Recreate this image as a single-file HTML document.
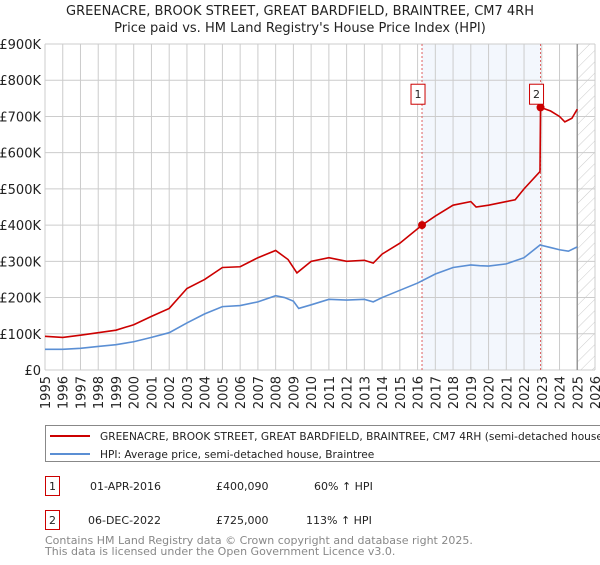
<!DOCTYPE html>
<html><head><meta charset="utf-8"><style>
body{margin:0;background:#fff;font-family:"Liberation Sans","DejaVu Sans",sans-serif;}
svg text{font-family:"DejaVu Sans","Liberation Sans",sans-serif;}
</style></head><body>
<svg id="chart" width="600" height="560" xmlns="http://www.w3.org/2000/svg">
<defs><pattern id="hatch" width="8" height="8" patternUnits="userSpaceOnUse" patternTransform="rotate(45)"><line x1="0" y1="0" x2="0" y2="8" stroke="#ccc" stroke-width="1"/></pattern></defs>
<text x="300" y="15" text-anchor="middle" font-size="13" fill="#222">GREENACRE, BROOK STREET, GREAT BARDFIELD, BRAINTREE, CM7 4RH</text>
<text x="300" y="32" text-anchor="middle" font-size="13" fill="#222">Price paid vs. HM Land Registry's House Price Index (HPI)</text>
<g id="plot"></g>
<rect x="45.5" y="425.5" width="560" height="36" fill="#fff" stroke="#888"/>
<line x1="50" y1="436" x2="90" y2="436" stroke="#cc0000" stroke-width="2"/>
<text x="100" y="440" font-size="10.6" fill="#222">GREENACRE, BROOK STREET, GREAT BARDFIELD, BRAINTREE, CM7 4RH (semi-detached house)</text>
<line x1="50" y1="454" x2="90" y2="454" stroke="#5b8fd4" stroke-width="2"/>
<text x="100" y="458" font-size="10.6" fill="#222">HPI: Average price, semi-detached house, Braintree</text>
<g font-size="11" fill="#222">
<rect x="45.5" y="476.5" width="14" height="19" fill="#fff" stroke="#cc0000"/><text x="52.5" y="490" text-anchor="middle">1</text>
<text x="90" y="490">01-APR-2016</text><text x="216" y="490">£400,090</text><text x="314" y="490">60% ↑ HPI</text></g>
<g font-size="11" fill="#222">
<rect x="45.5" y="510.5" width="14" height="19" fill="#fff" stroke="#cc0000"/><text x="52.5" y="524" text-anchor="middle">2</text>
<text x="88" y="524">06-DEC-2022</text><text x="216" y="524">£725,000</text><text x="306" y="524">113% ↑ HPI</text></g>
<text x="45" y="544" font-size="11" fill="#888">Contains HM Land Registry data © Crown copyright and database right 2025.</text>
<text x="45" y="555" font-size="11" fill="#888">This data is licensed under the Open Government Licence v3.0.</text>
</svg>
<script>
const yTicks=[0,100,200,300,400,500,600,700,800,900];
const yTickLabels=["£0","£100K","£200K","£300K","£400K","£500K","£600K","£700K","£800K","£900K"];
const years=[1995,1996,1997,1998,1999,2000,2001,2002,2003,2004,2005,2006,2007,2008,2009,2010,2011,2012,2013,2014,2015,2016,2017,2018,2019,2020,2021,2022,2023,2024,2025,2026];
const hpiX=[1995,1996,1997,1998,1999,2000,2001,2002,2003,2004,2005,2006,2007,2008,2008.5,2009,2009.3,2010,2011,2012,2013,2013.5,2014,2015,2016,2017,2018,2019,2019.5,2020,2021,2022,2022.9,2023.5,2024,2024.5,2025];
const hpiY=[57,57,60,65,70,78,90,103,130,155,175,178,188,205,200,190,170,180,195,193,195,188,200,220,240,265,283,290,288,287,293,310,345,338,332,328,340];
const redX=[1995,1996,1997,1998,1999,2000,2001,2002,2003,2004,2005,2006,2007,2008,2008.7,2009.2,2010,2011,2012,2013,2013.5,2014,2015,2016.25,2017,2018,2019,2019.3,2020,2021,2021.5,2022,2022.9,2022.93,2023.5,2024,2024.3,2024.7,2025];
const redY=[93,90,96,103,110,125,148,170,225,250,283,285,310,330,305,268,300,310,300,303,295,320,350,400,425,455,465,450,455,465,470,500,548,725,715,700,685,695,720];
const saleX=[2016.25,2022.93];
const saleY=[400.09,725];
const saleLabels=["1","2"];
const x0=45,x1=595,yTop=44,yBot=370;
const X=v=>x0+(v-1995)/(2026-1995)*(x1-x0);
const Y=v=>yBot-v/900*(yBot-yTop);
const NS="http://www.w3.org/2000/svg";
const g=document.getElementById('plot');
function mk(t,a){const e=document.createElementNS(NS,t);for(const k in a)e.setAttribute(k,a[k]);g.appendChild(e);return e;}
let e=mk('rect',{x:X(saleX[0]),y:yTop,width:X(saleX[1])-X(saleX[0]),height:yBot-yTop,fill:'#eef3fc',opacity:0.7});


e=mk('rect',{x:X(2025),y:yTop,width:x1-X(2025),height:yBot-yTop,fill:'url(#hatch)'});


yTicks.forEach((t,i)=>{
 e=mk('line',{x1:x0,x2:x1,y1:Y(t),y2:Y(t),stroke:'#ccc'});
 
 
 e=mk('text',{x:x0-4,y:Y(t)+5,'text-anchor':'end','font-size':13,fill:'#222'});e.textContent=yTickLabels[i];
 
 
});
years.forEach(yr=>{
 e=mk('line',{x1:X(yr),x2:X(yr),y1:yTop,y2:yBot,stroke:'#ccc'});
 
 
 e=mk('text',{x:0,y:0,'font-size':13,fill:'#222','text-anchor':'end',transform:`translate(${X(yr)+5},${yBot+6}) rotate(-90)`});e.textContent=yr;
 
 
});
e=mk('line',{x1:X(2025),x2:X(2025),y1:yTop,y2:yBot,stroke:'#999','stroke-width':1.5});


saleX.forEach(sx=>{
 e=mk('line',{x1:X(sx),x2:X(sx),y1:yTop,y2:yBot,stroke:'#e06060','stroke-dasharray':'2,2'});
 
 
});
e=mk('polyline',{points:hpiX.map((v,i)=>X(v)+','+Y(hpiY[i])).join(' '),fill:'none',stroke:'#5b8fd4','stroke-width':1.6});


e=mk('polyline',{points:redX.map((v,i)=>X(v)+','+Y(redY[i])).join(' '),fill:'none',stroke:'#cc0000','stroke-width':1.6});


saleX.forEach((sx,i)=>{
 e=mk('circle',{cx:X(sx),cy:Y(saleY[i]),r:4,fill:'#cc0000'});
 
 
 e=mk('rect',{x:X(sx)-11,y:Y(800)+4,width:14,height:20,fill:'#fff',stroke:'#cc0000'});
 
 
 e=mk('text',{x:X(sx)-4,y:Y(800)+18,'text-anchor':'middle','font-size':11,fill:'#222'});e.textContent=saleLabels[i];
 
 
});
</script>
</body></html>
